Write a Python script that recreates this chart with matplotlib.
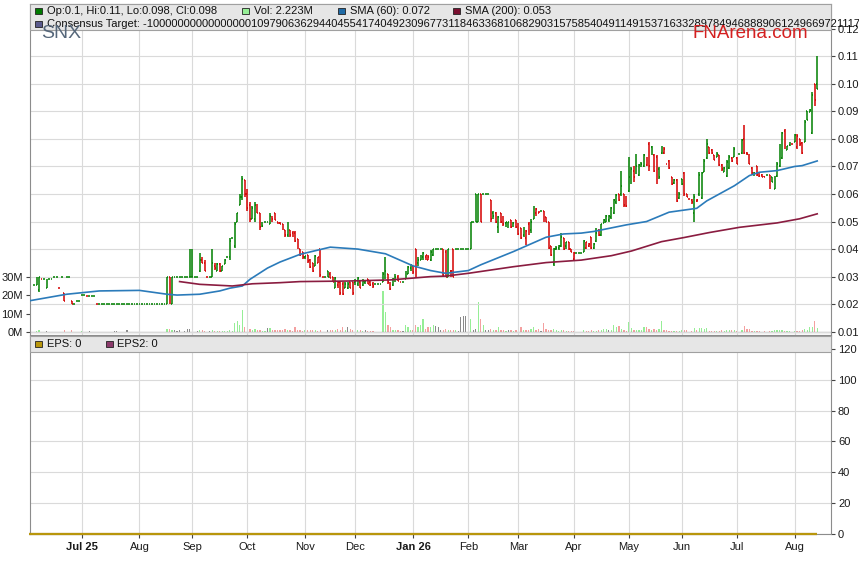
import numpy as np
import pandas as pd
import matplotlib
matplotlib.use("Agg")
import matplotlib.pyplot as plt
from matplotlib.collections import LineCollection
from matplotlib.patches import Rectangle

plt.rcParams['font.family'] = ['Liberation Sans', 'DejaVu Sans']

# daily bars (weekdays), prices in cents, first bar on 4 Jun 2025
first_day = "2025-06-04"

opens = [
    2.7, 2.7, 2.5, 2.9, 2.9, 2.6, 2.9, 2.9, 3.0, 3.0,
    2.6, 3.0, 2.4, 3.0, 3.0, 2.1, 2.0, 2.1, 2.1, 2.35,
    2.35, 2.3, 2.3, 2.3, 2.3, 2.0, 2.0, 2.0, 2.0, 2.0,
    2.0, 2.0, 2.0, 2.0, 2.0, 2.0, 2.0, 2.0, 2.0, 2.0,
    2.0, 2.0, 2.0, 2.0, 2.0, 2.0, 2.0, 2.0, 2.0, 2.0,
    2.0, 2.0, 2.0, 2.0, 3.0, 2.0, 3.0, 3.0, 3.0, 3.0,
    3.0, 3.0, 3.0, 3.0, 3.0, 3.0, 3.2, 3.6, 3.5, 3.0,
    3.0, 3.0, 3.4, 3.2, 3.45, 3.2, 3.45, 3.7, 3.7, 4.4,
    4.1, 5.0, 5.6, 5.9, 6.5, 6.0, 5.6, 5.1, 5.1, 5.65,
    5.3, 4.9, 5.0, 5.0, 4.9, 5.1, 5.3, 5.0, 4.95, 4.9,
    4.7, 4.5, 4.7, 4.6, 4.6, 4.35, 4.0, 3.9, 3.7, 3.8,
    3.6, 3.5, 3.4, 3.5, 4.0, 3.0, 3.0, 3.2, 3.1, 3.0,
    2.6, 2.7, 2.8, 2.75, 2.6, 2.6, 2.8, 2.8, 2.8, 2.75,
    2.8, 2.7, 2.8, 2.9, 2.8, 2.75, 2.72, 2.72, 2.72, 2.8,
    2.9, 3.1, 2.8, 2.7, 2.85, 3.0, 2.8, 2.8, 2.9, 3.1,
    3.3, 3.4, 4.0, 3.5, 3.6, 3.7, 3.7, 3.6, 3.6, 3.8,
    4.0, 4.0, 4.0, 4.0, 3.9, 3.0, 3.2, 4.0, 4.0, 4.0,
    4.0, 4.0, 4.0, 4.0, 4.0, 5.0, 6.0, 5.0, 6.0, 6.0,
    6.0, 6.0, 5.8, 5.3, 5.3, 4.8, 5.3, 5.15, 4.95, 4.9,
    5.05, 4.85, 5.05, 4.95, 4.75, 4.5, 4.4, 4.9, 4.7, 5.1,
    5.3, 5.3, 5.4, 5.4, 5.15, 5.0, 4.1, 3.45, 4.0, 4.05,
    4.1, 4.4, 4.1, 4.25, 4.0, 3.65, 3.85, 3.85, 3.85, 3.9,
    4.05, 4.1, 4.45, 4.05, 4.3, 4.7, 4.5, 4.95, 5.0, 5.05,
    5.15, 5.3, 5.7, 6.0, 6.0, 6.0, 5.9, 6.1, 6.45, 6.85,
    6.75, 6.7, 7.0, 7.0, 7.05, 7.8, 7.7, 7.4, 7.35, 6.9,
    7.5, 7.5, 7.1, 7.2, 6.6, 6.4, 6.5, 5.85, 6.55, 6.75,
    6.0, 5.82, 5.8, 5.3, 5.75, 6.0, 5.85, 6.8, 7.3, 7.7,
    7.6, 7.4, 7.35, 7.4, 7.05, 6.8, 6.65, 6.95, 7.3, 7.35,
    7.3, 7.45, 7.5, 8.0, 7.5, 7.45, 6.95, 6.7, 7.0, 6.75,
    6.7, 6.65, 6.7, 6.7, 6.6, 6.2, 6.65, 7.0, 7.3, 8.3,
    7.6, 7.78, 7.8, 7.9, 7.7, 8.0, 7.85, 7.9, 9.0, 8.97,
    8.2, 10.0, 10.0,
]

highs = [
    2.7, 3.0, 3.0, 2.9, 2.9, 2.9, 2.9, 2.9, 3.0, 3.0,
    2.6, 3.0, 2.4, 3.0, 3.0, 2.1, 2.0, 2.1, 2.1, 2.35,
    2.35, 2.3, 2.3, 2.3, 2.3, 2.0, 2.0, 2.0, 2.0, 2.0,
    2.0, 2.0, 2.0, 2.0, 2.0, 2.0, 2.0, 2.0, 2.0, 2.0,
    2.0, 2.0, 2.0, 2.0, 2.0, 2.0, 2.0, 2.0, 2.0, 2.0,
    2.0, 2.0, 2.0, 3.0, 3.0, 3.0, 3.0, 3.0, 3.0, 3.0,
    3.0, 3.0, 4.0, 4.0, 3.0, 3.0, 3.85, 3.7, 3.6, 3.0,
    3.0, 4.0, 3.5, 3.5, 3.5, 3.4, 3.65, 3.7, 4.4, 4.4,
    5.0, 5.3, 6.0, 6.67, 6.5, 6.2, 5.7, 5.55, 5.7, 5.65,
    5.3, 5.0, 5.0, 5.0, 5.3, 5.2, 5.3, 5.0, 5.0, 4.9,
    4.7, 5.0, 4.7, 4.65, 4.65, 4.35, 4.0, 3.9, 3.75, 3.8,
    3.65, 3.5, 3.8, 3.7, 4.0, 3.0, 3.0, 3.2, 3.15, 3.0,
    3.0, 2.85, 2.85, 2.8, 2.8, 2.8, 2.8, 2.8, 2.9, 3.0,
    2.85, 2.9, 2.85, 2.9, 2.85, 2.8, 2.72, 2.72, 2.72, 3.15,
    3.7, 3.1, 2.8, 2.95, 3.1, 3.05, 2.8, 2.8, 3.2, 3.4,
    3.45, 3.4, 4.0, 3.7, 3.8, 3.9, 3.8, 3.8, 3.95, 4.0,
    4.0, 4.0, 4.0, 4.0, 3.95, 4.0, 3.25, 4.0, 4.0, 4.0,
    4.0, 4.0, 4.0, 4.0, 5.0, 5.0, 6.0, 6.0, 6.0, 6.0,
    6.0, 6.0, 5.8, 5.4, 5.35, 5.2, 5.3, 5.2, 5.0, 5.0,
    5.05, 5.0, 5.05, 4.95, 4.75, 4.8, 4.7, 5.0, 5.1, 5.55,
    5.5, 5.4, 5.4, 5.4, 5.15, 5.0, 4.1, 4.05, 4.1, 4.15,
    4.57, 4.4, 4.27, 4.27, 4.02, 3.9, 3.85, 3.85, 3.85, 4.33,
    4.27, 4.21, 4.45, 4.21, 4.75, 4.73, 4.92, 5.1, 5.22, 5.25,
    5.52, 5.82, 6.0, 6.0, 6.82, 6.0, 5.94, 7.34, 6.97, 7.03,
    7.46, 7.09, 7.15, 7.46, 7.34, 7.88, 7.76, 7.46, 7.4, 6.97,
    7.76, 7.7, 7.1, 7.22, 6.61, 6.55, 6.55, 6.07, 6.55, 6.79,
    6.0, 5.82, 5.82, 6.0, 5.82, 6.79, 6.79, 7.28, 8.0, 7.7,
    7.64, 7.4, 7.52, 7.4, 7.09, 6.97, 7.22, 7.4, 7.34, 7.7,
    7.34, 7.45, 8.0, 8.51, 7.52, 7.46, 6.97, 6.79, 7.03, 6.79,
    6.73, 6.67, 6.7, 6.7, 6.61, 6.67, 7.15, 7.82, 8.24, 8.37,
    7.76, 7.88, 7.8, 8.18, 8.18, 8.0, 7.88, 8.67, 9.03, 9.09,
    9.7, 10.0, 11.0,
]

lows = [
    2.7, 2.7, 2.45, 2.9, 2.9, 2.6, 2.9, 2.9, 3.0, 3.0,
    2.6, 3.0, 2.1, 3.0, 3.0, 2.0, 2.0, 2.1, 2.1, 2.35,
    2.35, 2.3, 2.3, 2.3, 2.3, 2.0, 2.0, 2.0, 2.0, 2.0,
    2.0, 2.0, 2.0, 2.0, 2.0, 2.0, 2.0, 2.0, 2.0, 2.0,
    2.0, 2.0, 2.0, 2.0, 2.0, 2.0, 2.0, 2.0, 2.0, 2.0,
    2.0, 2.0, 2.0, 2.0, 2.0, 2.0, 3.0, 3.0, 3.0, 3.0,
    3.0, 3.0, 3.0, 3.0, 3.0, 3.0, 3.15, 3.5, 3.2, 3.0,
    3.0, 3.0, 3.25, 3.2, 3.15, 3.2, 3.45, 3.7, 3.6, 4.4,
    4.05, 5.0, 5.6, 5.8, 5.9, 5.4, 5.0, 5.1, 5.0, 5.3,
    4.7, 4.8, 5.0, 5.0, 4.9, 5.0, 5.05, 4.9, 4.9, 4.7,
    4.45, 4.45, 4.45, 4.45, 4.25, 4.0, 3.75, 3.65, 3.65, 3.5,
    3.3, 3.15, 3.4, 3.5, 3.0, 3.0, 3.0, 3.0, 2.95, 2.8,
    2.6, 2.6, 2.35, 2.35, 2.6, 2.55, 2.6, 2.35, 2.7, 2.65,
    2.6, 2.65, 2.75, 2.75, 2.65, 2.6, 2.72, 2.72, 2.72, 2.8,
    2.9, 2.75, 2.5, 2.65, 2.8, 2.85, 2.8, 2.8, 2.9, 3.1,
    3.2, 3.1, 3.0, 3.4, 3.6, 3.6, 3.6, 3.6, 3.55, 3.75,
    4.0, 4.0, 4.0, 3.0, 3.0, 3.0, 3.0, 3.0, 4.0, 4.0,
    4.0, 4.0, 4.0, 4.0, 4.0, 5.0, 5.0, 5.0, 5.0, 6.0,
    6.0, 6.0, 5.0, 5.1, 4.95, 4.6, 4.95, 4.85, 4.8, 4.75,
    4.75, 4.8, 4.75, 4.5, 4.35, 4.45, 4.15, 4.5, 4.6, 5.1,
    5.2, 5.3, 5.4, 5.0, 5.0, 4.0, 3.75, 3.4, 3.95, 3.96,
    4.08, 3.96, 4.0, 3.96, 3.9, 3.6, 3.85, 3.85, 3.85, 3.9,
    4.0, 4.09, 4.02, 4.02, 4.27, 4.49, 4.49, 4.95, 4.98, 5.0,
    5.1, 5.28, 5.64, 5.76, 5.94, 5.52, 5.52, 6.07, 6.37, 6.43,
    6.73, 6.67, 6.97, 6.97, 7.03, 6.85, 7.4, 6.79, 6.37, 6.55,
    7.46, 7.46, 7.1, 6.91, 6.31, 6.37, 5.7, 5.82, 6.31, 5.94,
    5.88, 5.82, 5.64, 5.0, 5.7, 5.94, 5.82, 6.79, 7.28, 7.46,
    7.46, 7.22, 7.34, 7.03, 6.85, 6.79, 6.61, 6.91, 7.15, 7.34,
    7.09, 7.45, 7.46, 7.46, 7.4, 7.09, 6.73, 6.67, 6.67, 6.61,
    6.61, 6.6, 6.7, 6.19, 6.43, 6.19, 6.61, 6.97, 7.28, 7.64,
    7.58, 7.76, 7.8, 7.88, 7.64, 7.76, 7.46, 7.88, 8.67, 8.97,
    8.18, 9.21, 9.8,
]

closes = [
    2.7, 2.9, 3.0, 2.9, 2.9, 2.9, 2.9, 2.9, 3.0, 3.0,
    2.6, 3.0, 2.1, 3.0, 3.0, 2.0, 2.0, 2.1, 2.1, 2.35,
    2.35, 2.3, 2.3, 2.3, 2.3, 2.0, 2.0, 2.0, 2.0, 2.0,
    2.0, 2.0, 2.0, 2.0, 2.0, 2.0, 2.0, 2.0, 2.0, 2.0,
    2.0, 2.0, 2.0, 2.0, 2.0, 2.0, 2.0, 2.0, 2.0, 2.0,
    2.0, 2.0, 2.0, 3.0, 2.0, 3.0, 3.0, 3.0, 3.0, 3.0,
    3.0, 3.0, 3.0, 3.0, 3.0, 3.0, 3.6, 3.5, 3.2, 3.0,
    3.0, 3.5, 3.3, 3.45, 3.2, 3.4, 3.6, 3.7, 4.3, 4.4,
    4.9, 5.3, 5.9, 6.55, 6.0, 5.5, 5.1, 5.5, 5.6, 5.3,
    4.8, 4.85, 5.0, 5.0, 5.2, 5.1, 5.05, 4.95, 4.9, 4.75,
    4.5, 4.9, 4.5, 4.45, 4.3, 4.05, 3.8, 3.7, 3.75, 3.55,
    3.35, 3.2, 3.75, 3.7, 3.05, 3.0, 3.0, 3.0, 2.95, 2.8,
    2.95, 2.8, 2.4, 2.38, 2.75, 2.75, 2.6, 2.4, 2.85, 2.95,
    2.6, 2.85, 2.85, 2.75, 2.7, 2.65, 2.72, 2.72, 2.72, 3.1,
    3.2, 2.8, 2.55, 2.9, 3.0, 2.85, 2.8, 2.8, 3.15, 3.35,
    3.4, 3.15, 3.1, 3.6, 3.75, 3.85, 3.8, 3.7, 3.9, 4.0,
    4.0, 4.0, 4.0, 3.05, 3.0, 4.0, 3.2, 3.0, 4.0, 4.0,
    4.0, 4.0, 4.0, 4.0, 5.0, 5.0, 5.0, 6.0, 5.0, 6.0,
    6.0, 6.0, 5.1, 5.2, 5.0, 5.15, 5.0, 4.9, 5.0, 5.0,
    4.8, 4.95, 4.8, 4.55, 4.4, 4.7, 4.65, 4.6, 5.0, 5.5,
    5.45, 5.4, 5.4, 5.05, 5.0, 4.05, 3.8, 4.0, 4.05, 4.1,
    4.45, 4.0, 4.25, 4.0, 3.9, 3.85, 3.85, 3.85, 3.85, 4.3,
    4.25, 4.2, 4.05, 4.2, 4.6, 4.5, 4.9, 5.05, 5.2, 5.2,
    5.5, 5.8, 5.95, 5.8, 6.3, 5.6, 5.55, 6.6, 6.9, 6.6,
    7.0, 7.05, 7.1, 7.4, 7.3, 7.0, 7.45, 6.85, 6.45, 6.6,
    7.7, 7.65, 7.1, 6.95, 6.35, 6.5, 5.75, 6.0, 6.35, 6.0,
    5.9, 5.82, 5.7, 5.9, 5.8, 6.7, 6.75, 7.2, 7.8, 7.5,
    7.48, 7.25, 7.45, 7.05, 6.9, 6.95, 7.15, 7.35, 7.2, 7.65,
    7.1, 7.45, 7.95, 7.5, 7.45, 7.1, 6.75, 6.78, 6.7, 6.65,
    6.62, 6.6, 6.7, 6.25, 6.45, 6.6, 7.1, 7.75, 8.2, 7.7,
    7.75, 7.85, 7.8, 8.15, 8.1, 7.8, 7.5, 8.6, 8.68, 9.05,
    9.6, 9.4, 9.8,
]

# volume in millions of shares
volumes = [
    0.3, 0.8, 1.0, 0.3, 0.0, 0.6, 0.0, 0.0, 0.2, 0.0,
    0.4, 0.2, 1.5, 0.3, 0.0, 1.0, 0.0, 0.4, 0.0, 0.5,
    0.0, 0.4, 0.5, 0.0, 0.0, 0.2, 0.0, 0.0, 0.0, 0.0,
    0.0, 0.0, 0.5, 0.5, 0.0, 0.0, 0.0, 1.0, 0.0, 0.0,
    0.0, 0.0, 0.0, 0.0, 0.3, 0.0, 0.0, 0.0, 0.4, 0.0,
    0.0, 0.0, 0.0, 2.0, 2.0, 1.5, 1.0, 0.8, 1.0, 0.3,
    0.5, 2.0, 2.0, 1.5, 0.4, 0.5, 1.5, 1.2, 0.8, 0.4,
    0.5, 1.2, 0.8, 0.6, 0.8, 0.6, 0.8, 0.5, 1.5, 0.7,
    5.0, 6.0, 4.0, 12.0, 3.0, 3.2, 2.0, 1.5, 2.0, 1.5,
    1.0, 0.8, 0.5, 2.5, 2.5, 1.0, 1.5, 1.5, 1.0, 1.5,
    2.0, 1.0, 1.0, 0.8, 3.0, 1.5, 1.0, 0.5, 1.5, 1.2,
    1.0, 1.5, 1.0, 0.8, 1.2, 0.3, 0.2, 1.0, 1.0, 1.2,
    1.0, 2.0, 1.0, 3.0, 1.0, 3.0, 2.0, 1.0, 0.8, 1.0,
    1.2, 0.6, 1.0, 0.8, 0.6, 0.5, 0.2, 0.2, 0.3, 22.0,
    11.0, 4.0, 3.0, 1.5, 1.0, 1.5, 0.5, 0.8, 4.0, 3.0,
    1.5, 1.0, 4.0, 3.0, 4.0, 7.0, 2.0, 3.0, 3.0, 4.0,
    3.5, 3.0, 1.0, 1.5, 2.0, 1.0, 1.5, 1.0, 1.0, 0.8,
    8.0, 9.0, 9.0, 8.0, 7.0, 1.0, 2.0, 16.5, 7.0, 4.0,
    1.5, 1.0, 2.0, 1.5, 1.0, 3.0, 1.0, 1.0, 0.8, 1.0,
    1.2, 0.8, 1.0, 5.0, 3.0, 1.0, 1.5, 1.0, 2.0, 3.0,
    1.5, 2.0, 0.6, 5.0, 2.0, 1.5, 1.0, 2.0, 1.0, 0.8,
    1.0, 1.0, 0.5, 0.6, 0.5, 0.8, 0.3, 0.3, 0.3, 1.5,
    0.8, 0.6, 1.5, 0.8, 0.6, 1.0, 1.0, 2.0, 2.0, 1.0,
    1.0, 4.0, 3.0, 3.5, 2.0, 1.0, 0.8, 5.8, 2.5, 1.0,
    1.5, 1.5, 1.2, 3.0, 3.0, 2.0, 1.0, 2.0, 1.5, 2.0,
    6.0, 1.0, 1.5, 0.8, 0.8, 0.6, 0.8, 0.5, 1.5, 1.5,
    1.0, 0.4, 0.6, 2.3, 1.0, 2.3, 2.5, 2.0, 2.5, 0.7,
    0.7, 0.5, 0.6, 0.7, 1.5, 0.5, 1.5, 1.5, 1.0, 1.5,
    0.6, 0.4, 1.5, 3.5, 2.0, 2.0, 0.6, 0.5, 0.6, 0.5,
    0.4, 0.5, 0.3, 0.8, 0.6, 1.5, 1.5, 1.5, 1.2, 0.7,
    0.6, 0.5, 0.4, 0.8, 0.6, 0.6, 1.0, 2.0, 1.0, 3.0,
    3.0, 6.0, 2.223,
]

# moving averages: weekday number (0 = 2 Jun 2025), value in cents
sma60_day = [0, 15, 28, 44, 55, 59, 68, 76, 80, 85, 88, 95, 100, 108, 120, 131, 142,
             153, 160, 166, 175, 180, 193, 206, 213, 220, 225, 238, 246, 255, 266,
             270, 281, 287, 291, 298, 305, 308, 314]
sma60_val = [2.12, 2.36, 2.48, 2.5, 2.36, 2.33, 2.36, 2.48, 2.58, 2.66, 2.9, 3.31,
             3.53, 3.81, 4.07, 4.0, 3.83, 3.39, 3.22, 3.12, 3.22, 3.43, 3.91, 4.43,
             4.55, 4.58, 4.64, 4.88, 5.0, 5.34, 5.48, 5.75, 6.3, 6.67, 6.79, 6.85,
             7.0, 7.03, 7.2]
sma200_day = [60, 68, 81, 89, 100, 108, 127, 144, 160, 166, 175, 193, 206, 220, 232,
              240, 252, 261, 271, 283, 298, 307, 314]
sma200_val = [2.82, 2.72, 2.66, 2.74, 2.78, 2.82, 2.84, 2.88, 3.0, 3.02, 3.12, 3.36,
              3.51, 3.6, 3.76, 3.93, 4.27, 4.42, 4.6, 4.79, 4.95, 5.1, 5.28]

eps_value = 0
eps2_value = 0
consensus = ("-100000000000000001097906362944045541740492309677311846336810682903157"
             "585404911491537163328978494688890612496697211172")

assert len(opens) == len(highs) == len(lows) == len(closes) == len(volumes)

GREEN = '#008000'
RED = '#d40000'
GRID = '#dadada'
SPINE = '#8c8c8c'

days = pd.bdate_range("2025-06-02", "2026-08-31")
bar_dates = pd.bdate_range(first_day, periods=len(closes))
x = days.get_indexer(bar_dates)

o, h, l, c = (np.array(v) for v in (opens, highs, lows, closes))
prev = np.r_[c[0], c[:-1]]
bar_cols = np.where(c >= prev, GREEN, RED)
vol_cols = np.where(c > prev, '#96ee96', np.where(c < prev, '#f4a0a0', '#8a8a8a'))

W, H = 859, 566
fig = plt.figure(figsize=(W / 100, H / 100), dpi=100)


def box(left, top, right, bottom):
    return [left / W, 1 - bottom / H, (right - left) / W, (bottom - top) / H]


ax_vol = fig.add_axes(box(30, 4, 831, 335))
ax = fig.add_axes(box(30, 4, 831, 335), sharex=ax_vol)
ax.patch.set_visible(False)
ax_eps = fig.add_axes(box(30, 336, 831, 534), sharex=ax_vol)

# volume underneath
ax_vol.bar(x, volumes, width=0.5, color=vol_cols, linewidth=0)
ax_vol.axhline(0, color='#909090', lw=0.9)
ax_vol.set_ylim(-1.46, 177)
ax_vol.set_yticks([0, 10, 20, 30])
ax_vol.set_yticklabels(['0M', '10M', '20M', '30M'])
ax_vol.tick_params(axis='y', direction='out', length=3, pad=2, labelsize=8,
                   color='#444444', labelcolor='#1a1a1a')
ax_vol.tick_params(axis='x', length=0, labelbottom=False)
for s in ax_vol.spines.values():
    s.set_visible(False)

# OHLC bars
tick = 0.36
segs, cols = [], []
for xi, oi, hi, li, ci, col in zip(x, o, h, l, c, bar_cols):
    segs += [[(xi, li), (xi, hi)], [(xi - tick, oi), (xi, oi)], [(xi, ci), (xi + tick, ci)]]
    cols += [col] * 3
ax.add_collection(LineCollection(segs, colors=cols, linewidths=1.1, capstyle='butt', zorder=3))

ax.plot(sma60_day, sma60_val, color='#2b7bba', lw=1.2, zorder=4, solid_joinstyle='round')
ax.plot(sma200_day, sma200_val, color='#8a1c40', lw=1.2, zorder=4, solid_joinstyle='round')

ax.set_ylim(0.88, 12.9)
ax.set_yticks(range(1, 13))
ax.set_yticklabels([f"{v / 100:.2f}" for v in range(1, 13)])
ax.yaxis.tick_right()
ax.tick_params(axis='y', direction='out', length=3, pad=2, labelsize=8,
               color='#444444', labelcolor='#1a1a1a')
ax.tick_params(axis='x', length=0, labelbottom=False)
ax.grid(True, color=GRID, lw=0.8, zorder=0)
ax.set_axisbelow(True)
for s in ax.spines.values():
    s.set_color(SPINE)
    s.set_linewidth(0.8)

# lower EPS panel
ax_eps.hlines(eps2_value, 0, x[-1], color='#8b3a6b', lw=1.5, clip_on=False)
ax_eps.hlines(eps_value, 0, x[-1], color='#b8960c', lw=1.6, clip_on=False, zorder=4)
ax_eps.set_ylim(0, 128.4)
ax_eps.set_yticks(range(0, 121, 20))
ax_eps.yaxis.tick_right()
ax_eps.tick_params(axis='y', direction='out', length=3, pad=2, labelsize=8,
                   color='#444444', labelcolor='#1a1a1a')
ax_eps.grid(True, color=GRID, lw=0.8, zorder=0)
ax_eps.set_axisbelow(True)
for s in ax_eps.spines.values():
    s.set_color(SPINE)
    s.set_linewidth(0.8)

# month ticks on the first weekday of each month
month_first = days.to_series().groupby(days.to_period('M')).first()
xmin, xmax = 0.4, 319.5
tick_pos, tick_lab = [], []
for d in month_first:
    p = days.get_loc(d)
    if xmin < p < xmax:
        first = not tick_pos
        tick_pos.append(p)
        tick_lab.append(d.strftime('%b %y') if (first or d.month == 1) else d.strftime('%b'))
ax_eps.set_xticks(tick_pos)
ax_eps.set_xticklabels(tick_lab)
ax_eps.tick_params(axis='x', direction='out', length=3, pad=3, labelsize=8,
                   color='#444444', labelcolor='#1a1a1a')
for lab in ax_eps.get_xticklabels():
    if ' ' in lab.get_text():
        lab.set_fontweight('bold')
ax_eps.set_xlim(xmin, xmax)


# header bands and legends (figure pixel coordinates)
def fig_rect(left, top, w, hgt, **kw):
    fig.add_artist(Rectangle((left / W, 1 - (top + hgt) / H), w / W, hgt / H,
                             transform=fig.transFigure, **kw))


def fig_text(xp, yp, s, **kw):
    fig.text(xp / W, 1 - yp / H, s, va='center', zorder=7, **kw)


fig_rect(30, 4, 801, 26, facecolor='#e6e6e6', edgecolor='#a0a0a0', lw=0.8, zorder=5)
fig_rect(30, 336, 801, 16, facecolor='#e6e6e6', edgecolor='#a0a0a0', lw=0.8, zorder=5)

row1 = [
    (35, '#007a00', f"Op:{o[-1] / 100:g}, Hi:{h[-1] / 100:g}, Lo:{l[-1] / 100:g}, Cl:{c[-1] / 100:g}"),
    (242, '#96ee96', f"Vol: {volumes[-1]:.3f}M"),
    (338, '#1f6aa5', f"SMA (60): {sma60_val[-1] / 100:.3f}"),
    (453, '#7a1030', f"SMA (200): {sma200_val[-1] / 100:.3f}"),
]
for xp, col, txt in row1:
    fig_rect(xp, 7.5, 6.5, 6.5, facecolor=col, edgecolor='#222222', lw=0.6, zorder=6)
    fig_text(xp + 12, 11, txt, fontsize=8, color='#111111')

fig_rect(35, 20.5, 6.5, 6.5, facecolor='#5a5a8c', edgecolor='#222222', lw=0.6, zorder=6)
fig_text(47, 24, "Consensus Target: " + consensus, fontsize=8, color='#111111')

fig_text(41, 34, "SNX", fontsize=14, color='#56677a')
fig_text(808, 33, "FNArena.com", fontsize=13.5, color='#d42020', ha='right')

fig_rect(35, 340.5, 6.5, 6.5, facecolor='#b8960c', edgecolor='#222222', lw=0.6, zorder=6)
fig_text(47, 344, f"EPS: {eps_value}", fontsize=8, color='#111111')
fig_rect(106, 340.5, 6.5, 6.5, facecolor='#8b3a6b', edgecolor='#222222', lw=0.6, zorder=6)
fig_text(117, 344, f"EPS2: {eps2_value}", fontsize=8, color='#111111')

fig.savefig("out.png", dpi=100)
